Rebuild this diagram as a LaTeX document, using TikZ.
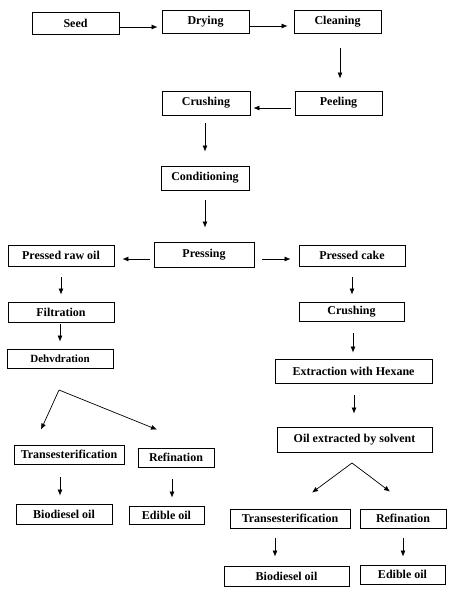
\documentclass[tikz,border=0pt]{standalone}
\usepackage{fontspec}
\setmainfont{Liberation Serif}
\usetikzlibrary{arrows.meta}
\begin{document}
\begin{tikzpicture}[x=1pt,y=-1pt,
  box/.style={draw,line width=0.8pt,inner sep=0pt,font=\bfseries\fontsize{12}{14}\selectfont},
  arr/.style={line width=0.7pt,-{Latex[length=6pt,width=5pt]}},
  ln/.style={line width=0.7pt}]
\useasboundingbox (0,0) rectangle (453,594);
\fill[white] (0,0) rectangle (453,594);
% nodes
\node[box,minimum width=87pt,minimum height=22pt] (seed) at (75.5,23) {Seed};
\node[box,minimum width=87pt,minimum height=23pt] (drying) at (205.5,21.5) {Drying};
\node[box,minimum width=87pt,minimum height=23pt] (cleaning) at (337.5,21.5) {Cleaning};
\node[box,minimum width=87pt,minimum height=24pt] (peeling) at (338.5,103) {Peeling};
\node[box,minimum width=88pt,minimum height=24pt] (crush1) at (206,103) {Crushing};
\node[box,minimum width=88pt,minimum height=24pt] (cond) at (205,178) {Conditioning};
\node[box,minimum width=100pt,minimum height=25pt] (press) at (204,254.5) {Pressing};
\node[box,minimum width=106pt,minimum height=21pt] (rawoil) at (61,255.5) {Pressed raw oil};
\node[box,minimum width=106pt,minimum height=21pt] (cake) at (352,255.5) {Pressed cake};
\node[box,minimum width=106pt,minimum height=20pt] (filt) at (61,312) {Filtration};
\node[box,minimum width=106pt,minimum height=19pt,font=\bfseries\fontsize{11}{13}\selectfont] (dehyd) at (60,358.5) {Dehvdration};
\node[box,minimum width=105pt,minimum height=19pt] (crush2) at (351.5,311.5) {Crushing};
\node[box,minimum width=157pt,minimum height=24pt] (ext) at (353.5,371) {Extraction with Hexane};
\node[box,minimum width=155pt,minimum height=25pt] (oilsol) at (354.5,439.5) {Oil extracted by solvent};
\node[box,minimum width=110pt,minimum height=19pt] (transL) at (69,454.5) {Transesterification};
\node[box,minimum width=76pt,minimum height=19pt] (refL) at (176,457.5) {Refination};
\node[box,minimum width=96pt,minimum height=20pt] (bioL) at (64,514) {Biodiesel oil};
\node[box,minimum width=75pt,minimum height=18pt] (edL) at (166.5,515) {Edible oil};
\node[box,minimum width=120pt,minimum height=19pt] (transR) at (290,518.5) {Transesterification};
\node[box,minimum width=86pt,minimum height=19pt] (refR) at (403,518.5) {Refination};
\node[box,minimum width=125pt,minimum height=20pt] (bioR) at (286.5,576) {Biodiesel oil};
\node[box,minimum width=85pt,minimum height=19pt] (edR) at (402.5,574.5) {Edible oil};
\coordinate (apexL) at (59,390);
\coordinate (apexR) at (352,463);
% connectors
\draw[arr] ([shift={(1,4)}]seed.east) -- ([shift={(-4,5.5)}]drying.west);
\draw[arr] ([shift={(1,4.5)}]drying.east) -- ([shift={(-6,4.5)}]cleaning.west);
\draw[arr] ([shift={(2.5,15)}]cleaning.south) -- ([shift={(1.5,-12)}]peeling.north);
\draw[arr] ([shift={(-4,5)}]peeling.west) -- ([shift={(3,5)}]crush1.east);
\draw[arr] ([shift={(-1,8)}]crush1.south) -- ([shift={(0,-14)}]cond.north);
\draw[arr] ([shift={(0,10)}]cond.south) -- ([shift={(1,-14)}]press.north);
\draw[arr] ([shift={(-4,4.5)}]press.west) -- ([shift={(8,3.5)}]rawoil.east);
\draw[arr] ([shift={(8,4.5)}]press.east) -- ([shift={(-8,3.5)}]cake.west);
\draw[arr] ([shift={(0,11)}]rawoil.south) -- ([shift={(0,-7)}]filt.north);
\draw[arr] ([shift={(-1,2)}]filt.south) -- ([shift={(0,-7)}]dehyd.north);
\draw[arr] ([shift={(0,11)}]cake.south) -- ([shift={(0.5,-7)}]crush2.north);
\draw[arr] ([shift={(1.5,12)}]crush2.south) -- ([shift={(-0.5,-6)}]ext.north);
\draw[arr] ([shift={(0.5,12)}]ext.south) -- ([shift={(-0.5,-13)}]oilsol.north);
\draw[arr] (apexL) -- ([shift={(-28,-15)}]transL.north);
\draw[arr] (apexL) -- ([shift={(-19,-18)}]refL.north);
\draw[arr] (apexR) -- ([shift={(22,-16)}]transR.north);
\draw[arr] (apexR) -- ([shift={(-13,-17)}]refR.north);
\draw[arr] ([shift={(-9,13)}]transL.south) -- ([shift={(-4,-8)}]bioL.north);
\draw[arr] ([shift={(-4,12)}]refL.south) -- ([shift={(5.5,-8)}]edL.north);
\draw[arr] ([shift={(-15,10)}]transR.south) -- ([shift={(-11.5,-9)}]bioR.north);
\draw[arr] ([shift={(0,10)}]refR.south) -- ([shift={(0.5,-8)}]edR.north);
\end{tikzpicture}
\end{document}
